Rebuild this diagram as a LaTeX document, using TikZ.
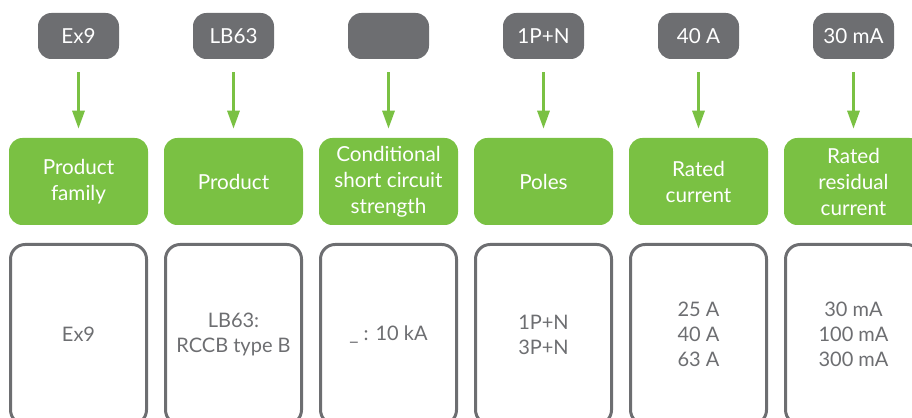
\documentclass[tikz,border=0pt]{standalone}
\usepackage{fontspec}
\setmainfont{Lato}
\usetikzlibrary{arrows.meta,positioning}

\definecolor{rcgreen}{HTML}{7AC143}
\definecolor{rcgray}{HTML}{6D6E71}

\tikzset{
  code/.style={fill=rcgray, text=white, rounded corners=10pt,
    minimum width=60.75pt, minimum height=34.5pt, inner sep=0pt,
    font=\fontsize{15.5}{17}\selectfont},
  field/.style={fill=rcgreen, text=white, rounded corners=10pt,
    minimum width=104.25pt, minimum height=65.25pt, inner sep=0pt,
    align=center, font=\fontsize{15.5}{19.5}\selectfont},
  values/.style={draw=rcgray, line width=2.25pt, text=rcgray, rounded corners=11pt,
    minimum width=102pt, minimum height=135pt, inner sep=0pt,
    align=center, font=\fontsize{15}{18.75}\selectfont},
  feed/.style={draw=rcgreen, line width=2.25pt, -{Triangle[width=9pt,length=13.5pt]},
    shorten <=9.75pt, shorten >=6.75pt}
}

\begin{document}
\begin{tikzpicture}[x=0.75pt,y=0.75pt]
\useasboundingbox (0,0) rectangle (912,417);
\clip (0,0) rectangle (912,417);

\foreach \i/\cd/\fl/\vl in {
  0/Ex9/{Product\\family}/Ex9,
  1/LB63/Product/{LB63:\\RCCB type B},
  2/{}/{Conditional\\short circuit\\strength}/{\_\ : 10 kA},
  3/1P+N/Poles/{1P+N\\3P+N},
  4/40 A/{Rated\\current}/{25 A\\40 A\\63 A},
  5/30 mA/{Rated\\residual\\current}/{30 mA\\100 mA\\300 mA}} {
\node[code] (k\i) at (78.5+155*\i, 381) {\cd};
\node[field] (f\i) at (78.5+155*\i, 235.5) {\fl};
\node[values] (v\i) at (78.5+155*\i, 82.5) {\vl};
}

\foreach \i in {0,...,5} {
\draw[feed] (k\i) -- (f\i);};
\end{tikzpicture}
\end{document}
